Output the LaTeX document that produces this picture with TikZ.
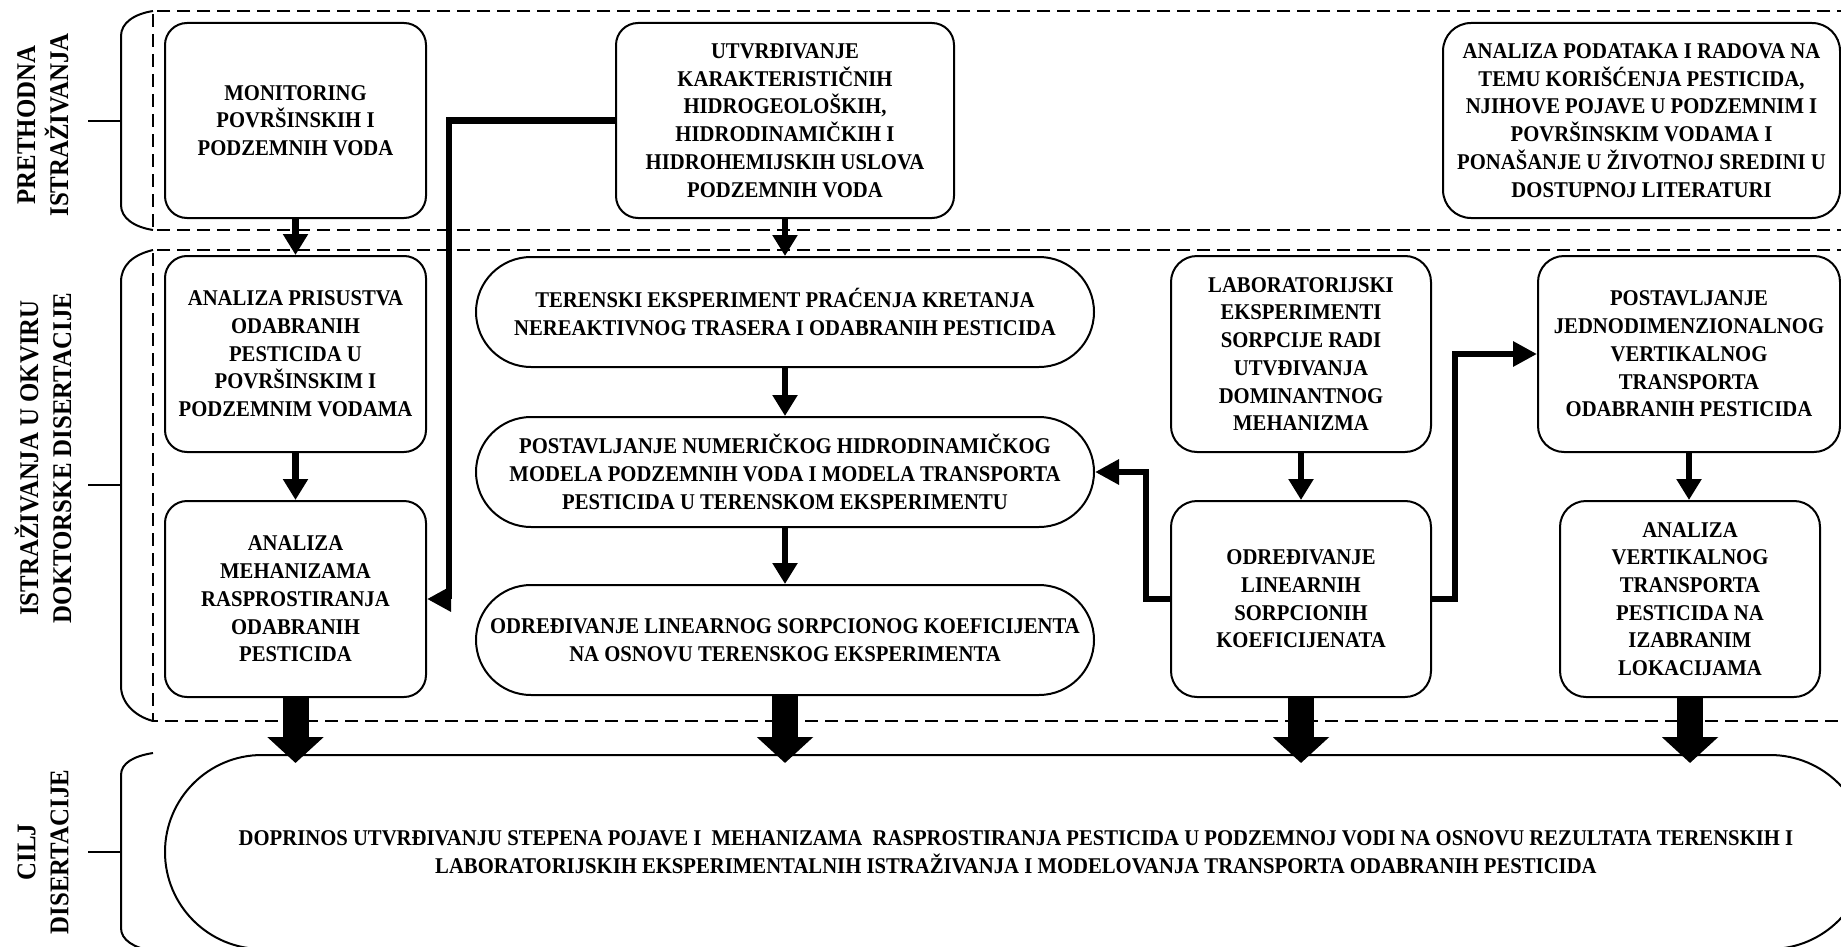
\documentclass[tikz,border=0pt]{standalone}
\usepackage{fontspec}
\setmainfont{Liberation Serif}[FakeStretch=0.92]
\usetikzlibrary{arrows.meta,calc}
\begin{document}
\begin{tikzpicture}[x=1pt,y=-1pt,
  every node/.style={font=\bfseries\fontsize{22.5}{27.7}\selectfont},
  rbox/.style={draw, line width=2pt, fill=white, rounded corners=22pt, align=center, inner sep=2pt},
  rboxb/.style={rbox, rounded corners=26pt},
  pill/.style={draw, line width=2pt, fill=white, rounded corners=55pt, align=center, inner sep=2pt, minimum width=618pt, minimum height=110pt},
  group/.style={draw, line width=1.5pt, dash pattern=on 13pt off 7pt},
  brace/.style={draw, line width=2pt},
  lbl/.style={rotate=90, align=center, inner sep=0pt, font=\bfseries\fontsize{27}{33}\selectfont},
  arr/.style={line width=6.5pt, -{Triangle[length=21pt,width=24pt]}},
  elbow/.style={line width=6.5pt, line join=miter, -{Triangle[length=24pt,width=24pt]}},
  big/.style={line width=26pt, -{Triangle[length=26pt,width=55pt]}},
]
\useasboundingbox (0,0) rectangle (1841,947);
\clip (0,0) rectangle (1841,947);

% group frames
\draw[group] (1870,11) -- (153,11) -- (153,230) -- (1870,230);
\draw[group] (1870,250) -- (153,250) -- (153,721) -- (1870,721);

% braces
\path[brace] (153,11) .. controls (134,14) and (121,23) .. (121,36) -- (121,205) .. controls (121,218) and (134,227) .. (153,230);
\path[brace] (88,121) -- (121,121);
\path[brace] (153,250) .. controls (132,255) and (121,266) .. (121,282) -- (121,686) .. controls (121,702) and (134,716) .. (153,721);
\path[brace] (88,485) -- (121,485);
\path[brace] (153,753) .. controls (134,756) and (121,763) .. (121,775) -- (121,928) .. controls (121,940) and (134,948) .. (153,951);
\path[brace] (88,852) -- (121,852);

% side labels
\node[lbl] (l1) at (43,125) {PRETHODNA\\ISTRAŽIVANJA};
\node[lbl] (l2) at (43,458) {ISTRAŽIVANJA U OKVIRU\\DOKTORSKE DISERTACIJE};
\node[lbl] (l3) at (43,852) {CILJ\\DISERTACIJE};

% top row
\node[rbox, minimum width=261pt, minimum height=195pt] (A) at (295.5,120.5) {MONITORING\\POVRŠINSKIH I\\PODZEMNIH VODA};
\node[rbox, minimum width=338pt, minimum height=195pt] (D) at (785,120.5) {UTVRĐIVANJE\\KARAKTERISTIČNIH\\HIDROGEOLOŠKIH,\\HIDRODINAMIČKIH I\\HIDROHEMIJSKIH USLOVA\\PODZEMNIH VODA};
\node[rboxb, rounded corners=28pt, minimum width=397pt, minimum height=195pt] (L) at (1641.5,120.5) {ANALIZA PODATAKA I RADOVA NA\\TEMU KORIŠĆENJA PESTICIDA,\\NJIHOVE POJAVE U PODZEMNIM I\\POVRŠINSKIM VODAMA I\\PONAŠANJE U ŽIVOTNOJ SREDINI U\\DOSTUPNOJ LITERATURI};

% left column
\node[rbox, minimum width=261pt, minimum height=196pt] (B) at (295.5,354) {ANALIZA PRISUSTVA\\ODABRANIH\\PESTICIDA U\\POVRŠINSKIM I\\PODZEMNIM VODAMA};
\node[rbox, minimum width=261pt, minimum height=196pt] (C) at (295.5,599) {ANALIZA\\MEHANIZAMA\\RASPROSTIRANJA\\ODABRANIH\\PESTICIDA};

% middle column
\node[pill] (E) at (785,312) {TERENSKI EKSPERIMENT PRAĆENJA KRETANJA\\NEREAKTIVNOG TRASERA I ODABRANIH PESTICIDA};
\node[pill] (F) at (785,472) {POSTAVLJANJE NUMERIČKOG HIDRODINAMIČKOG\\MODELA PODZEMNIH VODA I MODELA TRANSPORTA\\PESTICIDA U TERENSKOM EKSPERIMENTU};
\node[pill] (G) at (785,640) {ODREĐIVANJE LINEARNOG SORPCIONOG KOEFICIJENTA\\NA OSNOVU TERENSKOG EKSPERIMENTA};

% right columns
\node[rboxb, minimum width=260pt, minimum height=196pt] (H) at (1301,354) {LABORATORIJSKI\\EKSPERIMENTI\\SORPCIJE RADI\\UTVĐIVANJA\\DOMINANTNOG\\MEHANIZMA};
\node[rboxb, minimum width=260pt, minimum height=196pt] (I) at (1301,599) {ODREĐIVANJE\\LINEARNIH\\SORPCIONIH\\KOEFICIJENATA};
\node[rboxb, minimum width=302pt, minimum height=196pt] (J) at (1689,354) {POSTAVLJANJE\\JEDNODIMENZIONALNOG\\VERTIKALNOG\\TRANSPORTA\\ODABRANIH PESTICIDA};
\node[rboxb, minimum width=260pt, minimum height=196pt] (K) at (1690,599) {ANALIZA\\VERTIKALNOG\\TRANSPORTA\\PESTICIDA NA\\IZABRANIM\\LOKACIJAMA};

% goal
\node[draw, line width=2pt, fill=white, rounded corners=97pt, align=center, minimum width=1702pt, minimum height=194pt] (M) at (1016,852) {DOPRINOS UTVRĐIVANJU STEPENA POJAVE I\ \ MEHANIZAMA\ \ RASPROSTIRANJA PESTICIDA U PODZEMNOJ VODI NA OSNOVU REZULTATA TERENSKIH I\\LABORATORIJSKIH EKSPERIMENTALNIH ISTRAŽIVANJA I MODELOVANJA TRANSPORTA ODABRANIH PESTICIDA};

% thin arrows
\draw[arr] (A.south) -- (B.north);
\draw[arr] (B.south) -- (C.north);
\draw[arr] (D.south) -- (E.north);
\draw[arr] (E.south) -- (F.north);
\draw[arr] (F.south) -- (G.north);
\draw[arr] (H.south) -- (I.north);
\draw[arr] (J.south) -- (J.south |- K.north);

% elbow connectors
\draw[elbow] (D.west) -- ++(-166,0) |- (C.east);
\draw[elbow] (I.west) -- ++(-24,0) |- (F.east);
\draw[elbow] (I.east) -- ++(23,0) |- (J.west);

% big arrows to goal
\draw[big] (C.south) -- ($(C.south |- M.north)+(0,9)$);
\draw[big] (G.south) -- ($(G.south |- M.north)+(0,9)$);
\draw[big] (I.south) -- ($(I.south |- M.north)+(0,9)$);
\draw[big] (K.south) -- ($(K.south |- M.north)+(0,9)$);
\end{tikzpicture}
\end{document}
